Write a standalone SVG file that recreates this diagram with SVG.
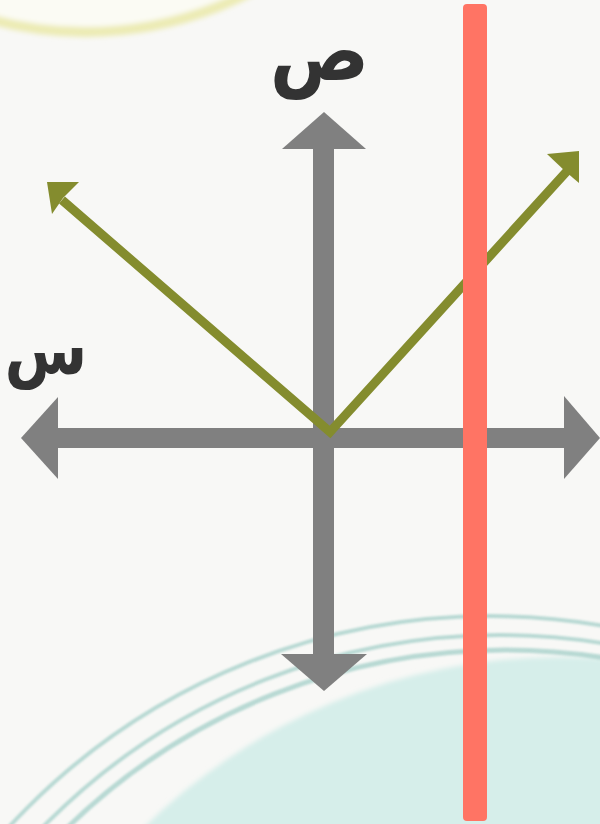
<svg xmlns="http://www.w3.org/2000/svg" width="600" height="824" viewBox="0 0 600 824">
  <style>
    .axis { fill: #808080; }
    .green { stroke: #848C2E; stroke-width: 9; fill: none; stroke-linejoin: miter; }
    .ghead { fill: #848C2E; }
    .lbl { font-family: "DejaVu Sans", "Noto Sans", sans-serif; font-weight: bold; fill: #333333; }
    .ring { fill: none; stroke: #A8D1CB; }
  </style>
  <defs>
    <filter id="blur" x="-10%" y="-10%" width="120%" height="120%">
      <feGaussianBlur stdDeviation="2.5"/>
    </filter>
    <filter id="blur1" x="-10%" y="-10%" width="120%" height="120%">
      <feGaussianBlur stdDeviation="1"/>
    </filter>
  </defs>
  <g id="background">
    <rect x="0" y="0" width="600" height="824" fill="#F8F8F6"/>
    <circle cx="85" cy="-330" r="362" fill="#FBFBF4" stroke="#ECEBB4" stroke-width="10" filter="url(#blur)"/>
    <circle cx="560" cy="1250" r="593" fill="#D6EEEA" filter="url(#blur)"/>
    <g filter="url(#blur1)" opacity="0.8">
      <circle class="ring" cx="490" cy="1270" r="654" stroke-width="4"/>
      <circle class="ring" cx="500" cy="1275" r="640" stroke-width="4"/>
      <circle class="ring" cx="505" cy="1278" r="628" stroke-width="5"/>
    </g>
  </g>
  <g id="x-axis">
    <rect class="axis" x="56" y="428" width="510" height="20"/>
    <polygon class="axis" points="21,438 58,397 58,479"/>
    <polygon class="axis" points="600,438 564,396 564,479"/>
  </g>
  <g id="y-axis">
    <rect class="axis" x="313" y="146" width="21" height="510"/>
    <polygon class="axis" points="324,112 282,149 366,149"/>
    <polygon class="axis" points="324,691 281,654 367,654"/>
  </g>
  <g id="connectors">
    <polyline class="green" points="62,200 330,432 568,170"/>
    <polygon class="ghead" points="47,182 79,182 63,198 52,214"/>
    <polygon class="ghead" points="579,151 547,154 566,172 579,183"/>
  </g>
  <g id="vertical-line">
    <rect x="463" y="4" width="24" height="817" rx="4" ry="4" fill="#FF7464"/>
  </g>
  <g id="label-y">
    <text class="lbl" transform="translate(319.5,80) scale(1,1.12)" x="0" y="0" font-size="74" text-anchor="middle">ص</text>
  </g>
  <g id="label-x">
    <text class="lbl" transform="translate(46,374) scale(1,1.15)" x="0" y="0" font-size="60" text-anchor="middle">س</text>
  </g>
</svg>
